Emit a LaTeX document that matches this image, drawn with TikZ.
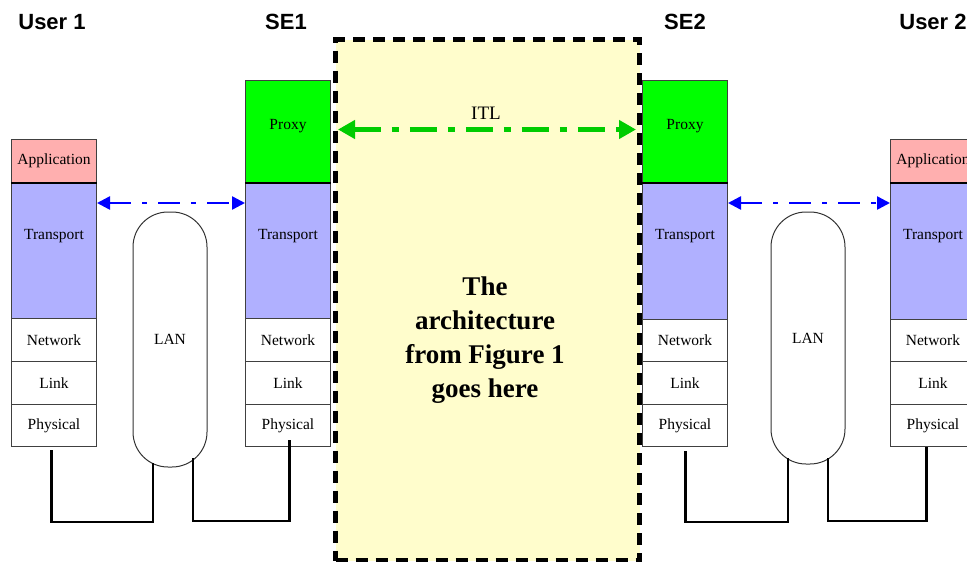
\documentclass[tikz,border=0pt]{standalone}
\usepackage{fontspec}
\setmainfont{Liberation Serif}
\newfontfamily\headfont{Liberation Sans}
\usetikzlibrary{arrows.meta,calc}
\definecolor{apppink}{RGB}{255,175,175}
\definecolor{transblue}{RGB}{176,176,255}
\definecolor{proxygreen}{RGB}{0,255,0}
\definecolor{archyellow}{RGB}{255,253,204}
\definecolor{itlgreen}{RGB}{0,204,0}
\tikzset{
  layer/.style={draw=black!75, line width=1pt, anchor=north west, minimum width=85pt, inner sep=0pt, font=\fontsize{15.5}{18}\selectfont},
  lbl/.style={inner sep=0pt, font=\fontsize{15.5}{18}\selectfont},
  head/.style={inner sep=0pt, font=\headfont\bfseries\fontsize{22}{26}\selectfont},
  sep/.style={line width=2pt, black},
  lan/.style={draw=black!80, line width=1pt, minimum width=74pt, rounded corners=35pt, inner sep=0pt, font=\fontsize{15.5}{18}\selectfont},
  wire/.style={line width=2.2pt, black},
  bluearrow/.style={blue, line width=2.5pt, dash pattern=on 22pt off 11pt on 5pt off 11pt, {Triangle[length=13pt,width=13pt]}-{Triangle[length=13pt,width=13pt]}},
  greenarrow/.style={itlgreen, line width=5pt, dash pattern=on 27pt off 11pt on 7pt off 11pt, {Triangle[length=17pt,width=18pt]}-{Triangle[length=17pt,width=18pt]}},
  archbox/.style={draw=black, fill=archyellow, line width=5pt, dash pattern=on 12pt off 8pt, anchor=north west, minimum width=304pt, minimum height=521pt, inner sep=0pt}
}
\begin{document}
\begin{tikzpicture}[x=1pt,y=-1pt]
\useasboundingbox (0,0) rectangle (967,562);
\clip (0,0) rectangle (967,562);
% central architecture box
\node[archbox] (arch) at (333,37) {};
\node[inner sep=0pt, font=\bfseries\fontsize{27}{34}\selectfont, align=center] (archtxt) at (485,340) {The\\architecture\\from Figure 1\\goes here};
% headers
\node[head] (hu1) at (52,22) {User 1};
\node[head] (hse1) at (286,22) {SE1};
\node[head] (hse2) at (685,22) {SE2};
\node[head] (hu2) at (933,22) {User 2};
% User 1 stack
\node[layer, minimum height=43pt, fill=apppink] (u1app) at (11,139) {Application};
\node[layer, minimum height=136pt, fill=transblue] (u1tr) at (11,182) {};
\node[lbl] (u1trl) at ($(u1tr.north)+(0,54)$) {Transport};
\node[layer, minimum height=43pt] (u1net) at (11,318) {Network};
\node[layer, minimum height=43pt] (u1link) at (11,361) {Link};
\node[layer, minimum height=42pt] (u1phys) at (11,404) {Physical};
\draw[sep] (u1app.south west) -- (u1app.south east);
% SE1 stack
\node[layer, minimum height=102pt, fill=proxygreen] (se1prox) at (245,80) {};
\node[lbl] (se1proxl) at ($(se1prox.north)+(0,46)$) {Proxy};
\node[layer, minimum height=136pt, fill=transblue] (se1tr) at (245,182) {};
\node[lbl] (se1trl) at ($(se1tr.north)+(0,54)$) {Transport};
\node[layer, minimum height=43pt] (se1net) at (245,318) {Network};
\node[layer, minimum height=43pt] (se1link) at (245,361) {Link};
\node[layer, minimum height=42pt] (se1phys) at (245,404) {Physical};
\draw[sep] (se1prox.south west) -- (se1prox.south east);
% SE2 stack
\node[layer, minimum height=102pt, fill=proxygreen] (se2prox) at (642,80) {};
\node[lbl] (se2proxl) at ($(se2prox.north)+(0,46)$) {Proxy};
\node[layer, minimum height=137pt, fill=transblue] (se2tr) at (642,182) {};
\node[lbl] (se2trl) at ($(se2tr.north)+(0,54)$) {Transport};
\node[layer, minimum height=42pt] (se2net) at (642,319) {Network};
\node[layer, minimum height=43pt] (se2link) at (642,361) {Link};
\node[layer, minimum height=42pt] (se2phys) at (642,404) {Physical};
\draw[sep] (se2prox.south west) -- (se2prox.south east);
% User 2 stack
\node[layer, minimum height=43pt, fill=apppink] (u2app) at (890,139) {Application};
\node[layer, minimum height=137pt, fill=transblue] (u2tr) at (890,182) {};
\node[lbl] (u2trl) at ($(u2tr.north)+(0,54)$) {Transport};
\node[layer, minimum height=42pt] (u2net) at (890,319) {Network};
\node[layer, minimum height=43pt] (u2link) at (890,361) {Link};
\node[layer, minimum height=42pt] (u2phys) at (890,404) {Physical};
\draw[sep] (u2app.south west) -- (u2app.south east);
% LANs
\node[lan, minimum height=255pt] (lan1) at (170,339.5) {LAN};
\node[lan, minimum height=252pt] (lan2) at (808,338) {LAN};
\coordinate (l1a) at (153,463);
\coordinate (l1b) at (193,458);
\coordinate (l2a) at (788,458);
\coordinate (l2b) at (828,458);
% wires
\draw[wire] ($(u1phys.south)+(-2.5,3)$) -- ++(0,72) -| (l1a);
\draw[wire] (l1b) -- ++(0,63) -| ($(se1phys.south)+(1.5,-7)$);
\draw[wire] ($(se2phys.south)+(0.5,4)$) -- ++(0,71) -| (l2a);
\draw[wire] (l2b) -- ++(0,63) -| ($(u2phys.south)+(-6.5,0)$);
% arrows
\draw[bluearrow] ($(u1tr.north east)+(0,21)$) -- ($(se1tr.north west)+(0,21)$);
\draw[bluearrow] ($(se2tr.north east)+(0,21)$) -- ($(u2tr.north west)+(0,21)$);
\draw[greenarrow, shorten <=7pt, shorten >=6pt] ($(se1prox.east)+(0,-2)$) -- ($(se2prox.west)+(0,-2)$);
\node[inner sep=0pt, font=\fontsize{19}{22}\selectfont] (itl) at (486,113) {ITL};
\end{tikzpicture}
\end{document}
